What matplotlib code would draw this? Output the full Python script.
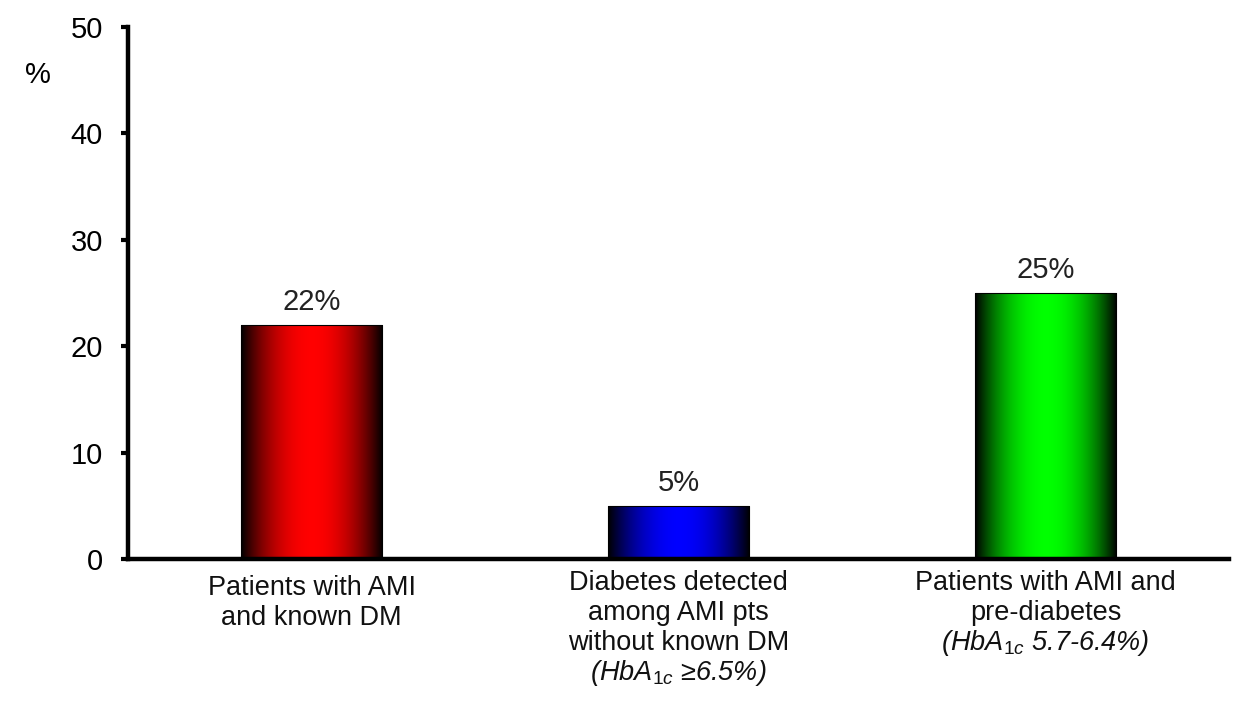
import numpy as np
import matplotlib
matplotlib.use("Agg")
import matplotlib.pyplot as plt
from matplotlib.colors import LinearSegmentedColormap

plt.rcParams['font.family'] = ['Liberation Sans', 'DejaVu Sans']
plt.rcParams['mathtext.fontset'] = 'custom'
plt.rcParams['mathtext.rm'] = 'Liberation Sans'
plt.rcParams['mathtext.it'] = 'Liberation Sans:italic'

values = [22, 5, 25]
value_labels = ["22%", "5%", "25%"]
bar_colors = ["#ff0000", "#0000ff", "#00ff00"]
category_lines = [
    [("Patients with AMI", False), ("and known DM", False)],
    [("Diabetes detected", False), ("among AMI pts", False),
     ("without known DM", False), (r"(HbA$_{1c}$ ≥6.5%)", True)],
    [("Patients with AMI and", False), ("pre-diabetes", False),
     (r"(HbA$_{1c}$ 5.7-6.4%)", True)],
]
yticks = [0, 10, 20, 30, 40, 50]

fig = plt.figure(figsize=(12.37, 7.05), dpi=100)
ax = fig.add_axes([0.1035, 0.2071, 0.89, 0.7546])

x = np.arange(len(values))
width = 0.385
bars = ax.bar(x, values, width=width, color="none", edgecolor="black", linewidth=0.8, zorder=3)

# horizontal gradient: black at edges, bright colour in the middle
t = np.linspace(-1, 1, 256)
grad = (1 - t ** 2).reshape(1, -1)
for b, c in zip(bars, bar_colors):
    cmap = LinearSegmentedColormap.from_list("g", ["black", c])
    x0, w, h = b.get_x(), b.get_width(), b.get_height()
    im = ax.imshow(grad, cmap=cmap, extent=[x0, x0 + w, 0, h], aspect="auto", zorder=2,
                   interpolation="bicubic")
    im.set_clip_path(b)

for xi, v, lab in zip(x, values, value_labels):
    ax.annotate(lab, (xi, v), xytext=(0, 6.5), textcoords="offset points",
                ha="center", va="bottom", fontsize=21, color="#222222")

ax.set_xlim(-0.5, 2.5)
ax.set_ylim(0, 50)
ax.set_yticks(yticks)
ax.set_xticks([])
ax.tick_params(axis="y", direction="out", length=5, width=3, labelsize=21, pad=13)
ax.spines["top"].set_visible(False)
ax.spines["right"].set_visible(False)
ax.spines["left"].set_linewidth(3.2)
ax.spines["bottom"].set_linewidth(3.2)

for xi, lines in zip(x, category_lines):
    start = 29 if len(lines) == 2 else 24
    for k, (txt, it) in enumerate(lines):
        ax.annotate(txt, (xi, 0), xycoords=("data", "axes fraction"),
                    xytext=(0, -(start + 30 * k) * 0.72), textcoords="offset points",
                    ha="center", va="center", fontsize=19.5, color="#111111",
                    fontstyle="italic" if it else "normal")

fig.text(25 / 1237, 1 - 75 / 705, "%", fontsize=21, ha="left", va="center")

fig.savefig("out.png", dpi=100)
